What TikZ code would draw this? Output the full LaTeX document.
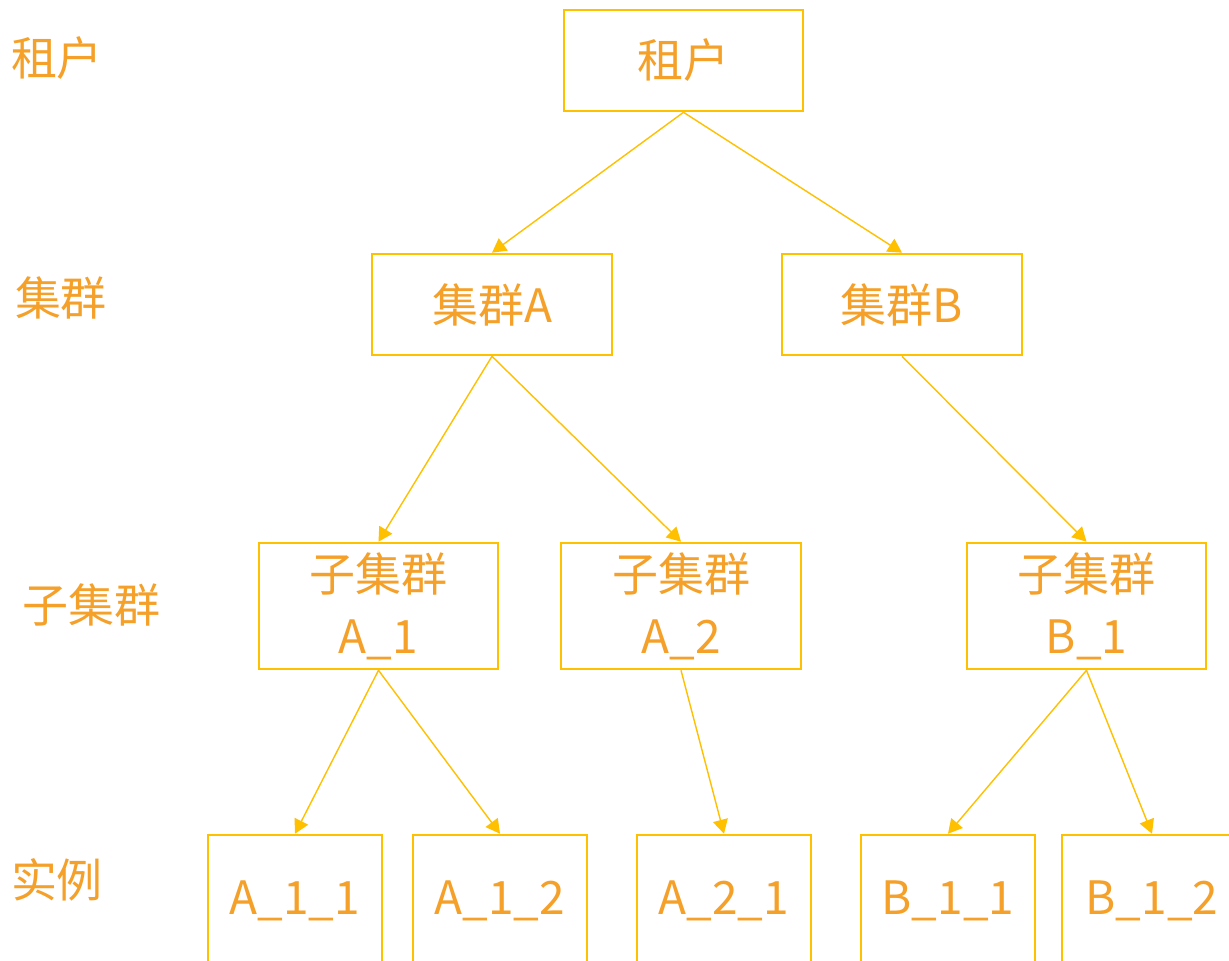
\documentclass[tikz,border=0pt]{standalone}
\usepackage{fontspec}
\setmainfont{Noto Sans CJK SC}
\usetikzlibrary{arrows.meta}
\definecolor{boxc}{RGB}{255,192,0}
\definecolor{txtc}{RGB}{245,160,40}
\begin{document}
\begin{tikzpicture}[x=1pt,y=-1pt,
  box/.style={draw=boxc,line width=2.6pt,text=txtc,inner sep=0pt,
    font=\fontsize{46}{62}\selectfont,align=center},
  lbl/.style={text=txtc,inner sep=0pt,font=\fontsize{46}{52}\selectfont},
  conn/.style={draw=boxc,line width=1.4pt,-{Triangle[length=14pt,width=15pt]}}]
\useasboundingbox (0,0) rectangle (1229,961);
\fill[white] (0,0) rectangle (1229,961);
% level labels
\node[lbl] (l1) at (57,58) {租户};
\node[lbl] (l2) at (61,298) {集群};
\node[lbl] (l3) at (92,605) {子集群};
\node[lbl] (l4) at (57,880) {实例};
% boxes
\node[box,minimum width=239,minimum height=101] (t) at (683.5,60.5) {租户};
\node[box,minimum width=240,minimum height=101] (ca) at (492,304.5) {集群A};
\node[box,minimum width=240,minimum height=101] (cb) at (902,304.5) {集群B};
\node[box,minimum width=239,minimum height=126] (a1) at (378.5,606) {子集群\\A\_1};
\node[box,minimum width=240,minimum height=126] (a2) at (681,606) {子集群\\A\_2};
\node[box,minimum width=239,minimum height=126] (b1) at (1086.5,606) {子集群\\B\_1};
\node[box,minimum width=174,minimum height=132] (a11) at (295,901) {A\_1\_1};
\node[box,minimum width=174,minimum height=132] (a12) at (500,901) {A\_1\_2};
\node[box,minimum width=174,minimum height=132] (a21) at (724,901) {A\_2\_1};
\node[box,minimum width=174,minimum height=132] (b11) at (948,901) {B\_1\_1};
\node[box,minimum width=180,minimum height=132] (b12) at (1152,901) {B\_1\_2};
% connectors
\draw[conn] (t.south) -- (ca.north);
\draw[conn] (t.south) -- (cb.north);
\draw[conn] (ca.south) -- (a1.north);
\draw[conn] (ca.south) -- (a2.north);
\draw[conn] (cb.south) -- (b1.north);
\draw[conn] (a1.south) -- (a11.north);
\draw[conn] (a1.south) -- (a12.north);
\draw[conn] (a2.south) -- (a21.north);
\draw[conn] (b1.south) -- (b11.north);
\draw[conn] (b1.south) -- (b12.north);
\end{tikzpicture}
\end{document}
